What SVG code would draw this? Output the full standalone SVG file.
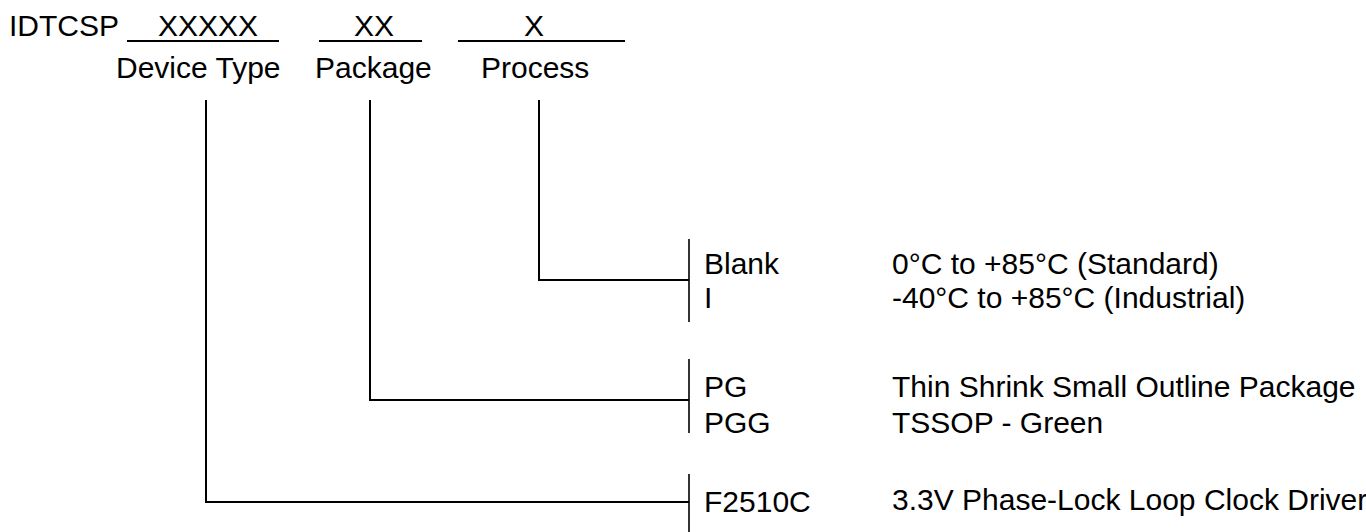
<svg xmlns="http://www.w3.org/2000/svg" width="1366" height="532" viewBox="0 0 1366 532">
<style>
text{font-family:"Liberation Sans",Arial,sans-serif;font-size:30px;fill:#000}
.m{text-anchor:middle}
line{stroke:#000;stroke-width:2}
.b{stroke-width:1.6}
</style>
<rect width="1366" height="532" fill="#fff"/>
<g id="header">
<text x="9" y="36">IDTCSP</text>
<line x1="127" y1="41" x2="279" y2="41"/>
<text class="m" x="208" y="36">XXXXX</text>
<line x1="319" y1="41" x2="422" y2="41"/>
<text class="m" x="374" y="36">XX</text>
<line x1="458" y1="41" x2="625" y2="41"/>
<text class="m" x="534" y="36">X</text>
<text x="116" y="78">Device Type</text>
<text x="315" y="78">Package</text>
<text x="481" y="78">Process</text>
</g>
<g id="connectors">
<line x1="206" y1="100" x2="206" y2="502"/>
<line x1="205" y1="502" x2="689" y2="502"/>
<line x1="370" y1="100" x2="370" y2="400"/>
<line x1="369" y1="400" x2="689" y2="400"/>
<line x1="539" y1="100" x2="539" y2="280"/>
<line x1="538" y1="280" x2="689" y2="280"/>
</g>
<g id="process-options">
<line class="b" x1="689" y1="239" x2="689" y2="322"/>
<text x="704" y="274">Blank</text>
<text x="704" y="308">I</text>
<text x="892" y="274">0°C to +85°C (Standard)</text>
<text x="892" y="308">-40°C to +85°C (Industrial)</text>
</g>
<g id="package-options">
<line class="b" x1="689" y1="359" x2="689" y2="433"/>
<text x="704" y="397">PG</text>
<text x="704" y="433">PGG</text>
<text x="892" y="397">Thin Shrink Small Outline Package</text>
<text x="892" y="433">TSSOP - Green</text>
</g>
<g id="device-options">
<line class="b" x1="689" y1="474" x2="689" y2="532"/>
<text x="704" y="512">F2510C</text>
<text x="892" y="510">3.3V Phase-Lock Loop Clock Driver</text>
</g>
</svg>
